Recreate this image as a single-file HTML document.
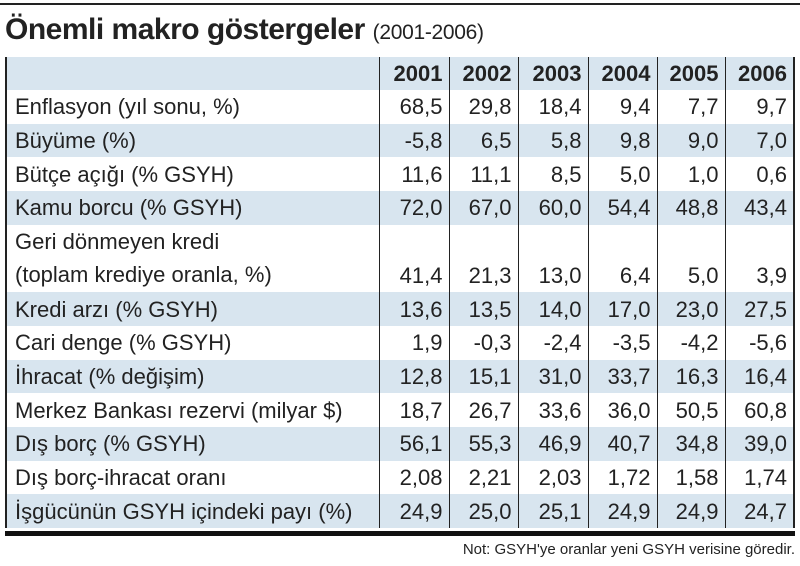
<!DOCTYPE html>
<html><head><meta charset="utf-8">
<style>
html,body{margin:0;padding:0;background:#fff;}
body{width:800px;height:566px;position:relative;overflow:hidden;font-family:"Liberation Sans Narrow","Liberation Sans",sans-serif;color:#222;}
#top-rule{position:absolute;left:0;top:3px;width:800px;height:2px;background:#222;}
#title{position:absolute;left:5px;top:13px;font-size:30px;font-weight:bold;white-space:nowrap;letter-spacing:-0.5px;}
#title span{font-weight:normal;font-size:21px;letter-spacing:-0.3px;}
table{position:absolute;left:5px;top:57px;border-collapse:collapse;table-layout:fixed;width:790px;border-left:2px solid #222;border-right:2px solid #222;}
td{padding:0 6px 0 8px;font-size:22px;height:33.7px;box-sizing:border-box;white-space:nowrap;line-height:33px;}
td.n{text-align:right;border-left:1.5px solid #222;}
tr.b td{background:#d8e5ef;}
tr.h td{height:31px;font-weight:bold;}
tr.d td{height:67.4px;}
#bottom-bar{position:absolute;left:5px;top:531px;width:790px;height:5px;background:#111;}
#note{position:absolute;right:5px;top:541px;font-size:15px;white-space:nowrap;}
</style></head><body>
<div id="top-rule"></div>
<div id="title">Önemli makro göstergeler <span>(2001-2006)</span></div>
<table>
<colgroup><col style="width:373px"><col style="width:70px"><col style="width:69px"><col style="width:70px"><col style="width:69px"><col style="width:68px"><col style="width:69px"></colgroup>
<tr class="b h"><td></td><td class="n">2001</td><td class="n">2002</td><td class="n">2003</td><td class="n">2004</td><td class="n">2005</td><td class="n">2006</td></tr>
<tr><td>Enflasyon (yıl sonu, %)</td><td class="n">68,5</td><td class="n">29,8</td><td class="n">18,4</td><td class="n">9,4</td><td class="n">7,7</td><td class="n">9,7</td></tr>
<tr class="b"><td>Büyüme (%)</td><td class="n">-5,8</td><td class="n">6,5</td><td class="n">5,8</td><td class="n">9,8</td><td class="n">9,0</td><td class="n">7,0</td></tr>
<tr><td>Bütçe açığı (% GSYH)</td><td class="n">11,6</td><td class="n">11,1</td><td class="n">8,5</td><td class="n">5,0</td><td class="n">1,0</td><td class="n">0,6</td></tr>
<tr class="b"><td>Kamu borcu (% GSYH)</td><td class="n">72,0</td><td class="n">67,0</td><td class="n">60,0</td><td class="n">54,4</td><td class="n">48,8</td><td class="n">43,4</td></tr>
<tr class="d"><td style="line-height:33.7px">Geri dönmeyen kredi<br>(toplam krediye oranla, %)</td><td class="n" style="vertical-align:bottom">41,4</td><td class="n" style="vertical-align:bottom">21,3</td><td class="n" style="vertical-align:bottom">13,0</td><td class="n" style="vertical-align:bottom">6,4</td><td class="n" style="vertical-align:bottom">5,0</td><td class="n" style="vertical-align:bottom">3,9</td></tr>
<tr class="b"><td>Kredi arzı (% GSYH)</td><td class="n">13,6</td><td class="n">13,5</td><td class="n">14,0</td><td class="n">17,0</td><td class="n">23,0</td><td class="n">27,5</td></tr>
<tr><td>Cari denge (% GSYH)</td><td class="n">1,9</td><td class="n">-0,3</td><td class="n">-2,4</td><td class="n">-3,5</td><td class="n">-4,2</td><td class="n">-5,6</td></tr>
<tr class="b"><td>İhracat (% değişim)</td><td class="n">12,8</td><td class="n">15,1</td><td class="n">31,0</td><td class="n">33,7</td><td class="n">16,3</td><td class="n">16,4</td></tr>
<tr><td>Merkez Bankası rezervi (milyar $)</td><td class="n">18,7</td><td class="n">26,7</td><td class="n">33,6</td><td class="n">36,0</td><td class="n">50,5</td><td class="n">60,8</td></tr>
<tr class="b"><td>Dış borç (% GSYH)</td><td class="n">56,1</td><td class="n">55,3</td><td class="n">46,9</td><td class="n">40,7</td><td class="n">34,8</td><td class="n">39,0</td></tr>
<tr><td>Dış borç-ihracat oranı</td><td class="n">2,08</td><td class="n">2,21</td><td class="n">2,03</td><td class="n">1,72</td><td class="n">1,58</td><td class="n">1,74</td></tr>
<tr class="b"><td>İşgücünün GSYH içindeki payı (%)</td><td class="n">24,9</td><td class="n">25,0</td><td class="n">25,1</td><td class="n">24,9</td><td class="n">24,9</td><td class="n">24,7</td></tr>
</table>
<div id="bottom-bar"></div>
<div id="note">Not: GSYH'ye oranlar yeni GSYH verisine göredir.</div>
</body></html>
